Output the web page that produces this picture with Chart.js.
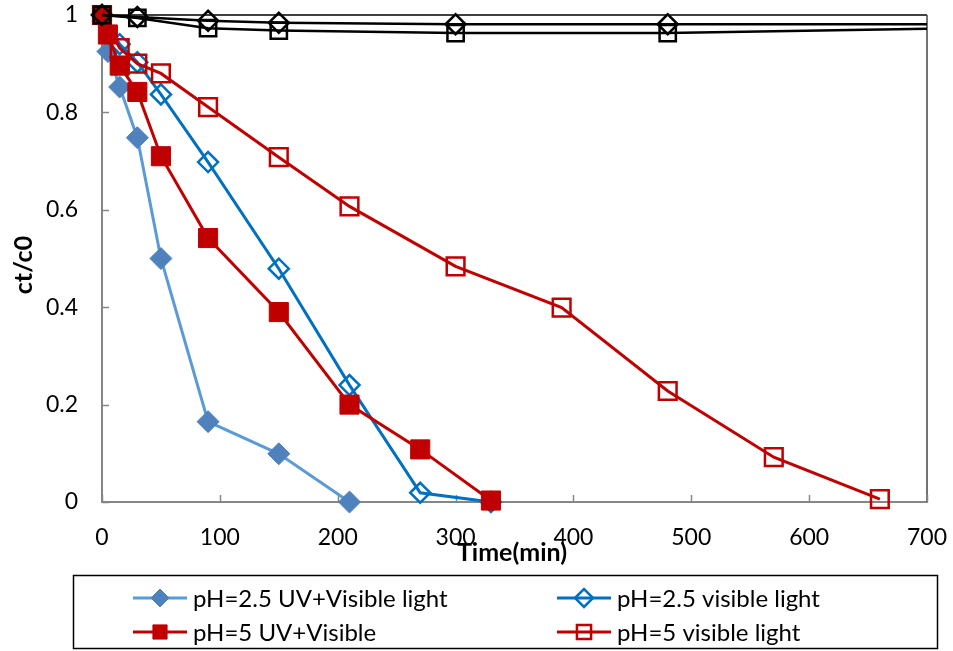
<!DOCTYPE html>
<html>
<head>
<meta charset="utf-8">
<script src="https://cdn.jsdelivr.net/npm/chart.js@4.4.0/dist/chart.umd.min.js"></script>
<style>
  html, body { margin: 0; padding: 0; background: #fff; }
</style>
</head>
<body>
<canvas id="chart" width="953" height="651"></canvas>
<script>
// time axis (min) for each series
const timeUvLow = [0, 5, 15, 30, 50, 90, 150, 210];
const timeVisLow = [0, 15, 30, 50, 90, 150, 210, 270, 330];
const timeUvHigh = [0, 5, 15, 30, 50, 90, 150, 210, 270, 330];
const timeVisHigh = [0, 15, 30, 50, 90, 150, 210, 300, 390, 480, 570, 660];
const timeDark = [0, 30, 90, 150, 300, 480, 700];

// ct/c0 values
const ph25UvVis = [1, 0.925, 0.852, 0.748, 0.50, 0.165, 0.099, 0.0];
const ph25Vis = [1, 0.94, 0.903, 0.837, 0.698, 0.479, 0.24, 0.019, 0.0];
const ph5UvVis = [1, 0.96, 0.896, 0.842, 0.71, 0.542, 0.39, 0.2, 0.108, 0.003];
const ph5Vis = [1, 0.932, 0.90, 0.88, 0.811, 0.708, 0.607, 0.484, 0.399, 0.228, 0.092, 0.006];
const darkA = [1, 0.996, 0.988, 0.984, 0.981, 0.981, 0.981];
const darkB = [1, 0.994, 0.973, 0.968, 0.963, 0.963, 0.972];

const seriesLabels = ['pH=2.5 UV+Visible light', 'pH=2.5 visible light', 'pH=5 UV+Visible', 'pH=5 visible light'];
const xTicks = [0, 100, 200, 300, 400, 500, 600, 700];
const yTicks = [0, 0.2, 0.4, 0.6, 0.8, 1];

function pts(xs, ys) {
    return xs.map((x, i) => ({ x: x, y: ys[i] }));
}

// last dark point only carries the line, no marker
function endless(n, r) {
    return Array.from({ length: n }, (_, i) => i === n - 1 ? 0 : r);
}

const datasets = [
    {
        label: seriesLabels[0], data: pts(timeUvLow, ph25UvVis), order: 6,
        borderColor: '#5B9BD5', borderWidth: 3,
        pointStyle: 'rectRot', pointRadius: 11, pointBackgroundColor: '#4F81BD', pointBorderColor: '#4F81BD', pointBorderWidth: 1
    },
    {
        label: seriesLabels[1], data: pts(timeVisLow, ph25Vis), order: 5,
        borderColor: '#0070C0', borderWidth: 3,
        pointStyle: 'rectRot', pointRadius: 10, pointBackgroundColor: 'rgba(0,0,0,0)', pointBorderColor: '#0070C0', pointBorderWidth: 2.5
    },
    {
        label: seriesLabels[2], data: pts(timeUvHigh, ph5UvVis), order: 4,
        borderColor: '#C00000', borderWidth: 3,
        pointStyle: 'rect', pointRadius: 13.5, pointBackgroundColor: '#C00000', pointBorderColor: '#C00000', pointBorderWidth: 1
    },
    {
        label: seriesLabels[3], data: pts(timeVisHigh, ph5Vis), order: 3,
        borderColor: '#C00000', borderWidth: 3,
        pointStyle: 'rect', pointRadius: 12.5, pointBackgroundColor: 'rgba(0,0,0,0)', pointBorderColor: '#C00000', pointBorderWidth: 2.5
    },
    {
        label: 'dark A', data: pts(timeDark, darkA), order: 2,
        borderColor: '#000', borderWidth: 2.5,
        pointStyle: 'rectRot', pointRadius: endless(timeDark.length, 10), pointBackgroundColor: 'rgba(0,0,0,0)', pointBorderColor: '#000', pointBorderWidth: 2.5
    },
    {
        label: 'dark B', data: pts(timeDark, darkB), order: 1,
        borderColor: '#000', borderWidth: 2.5,
        pointStyle: 'rect', pointRadius: endless(timeDark.length, 11.5), pointBackgroundColor: 'rgba(0,0,0,0)', pointBorderColor: '#000', pointBorderWidth: 2.5
    }
];
datasets.forEach(d => { d.showLine = true; d.fill = false; d.tension = 0; d.clip = false; });

// frame, inner tick marks, axis titles and boxed legend
const decorations = {
    id: 'decorations',
    beforeDatasetsDraw(chart) {
        const c = chart.ctx, a = chart.chartArea;
        c.save();
        c.strokeStyle = '#000';
        c.lineWidth = 1.5;
        c.beginPath();
        c.moveTo(a.left, a.top);
        c.lineTo(a.right, a.top);
        c.stroke();
        c.strokeStyle = '#444';
        c.beginPath();
        c.moveTo(a.right, a.top);
        c.lineTo(a.right, a.bottom);
        c.stroke();
        // inner ticks
        const xs = chart.scales.x, ys = chart.scales.y;
        c.strokeStyle = '#868686';
        c.lineWidth = 1.5;
        xTicks.forEach(v => {
            const px = Math.round(xs.getPixelForValue(v)) + 0.5;
            c.beginPath(); c.moveTo(px, a.bottom); c.lineTo(px, a.bottom - 7); c.stroke();
        });
        yTicks.forEach(v => {
            const py = Math.round(ys.getPixelForValue(v)) + 0.5;
            c.beginPath(); c.moveTo(a.left, py); c.lineTo(a.left + 7, py); c.stroke();
        });
        c.restore();
    },
    afterDraw(chart) {
        const c = chart.ctx, a = chart.chartArea;
        c.save();
        c.fillStyle = '#000';
        c.font = 'bold 25px Lato';
        c.textAlign = 'center';
        c.textBaseline = 'middle';
        c.fillText('Time(min)', 512, 553);
        c.translate(24, 265);
        c.rotate(-Math.PI / 2);
        c.fillText('ct/c0', 0, 0);
        c.restore();

        // legend box
        c.save();
        c.strokeStyle = '#000';
        c.lineWidth = 1.5;
        c.strokeRect(73.5, 575.5, 864, 73);
        const slots = [[133, 598], [557, 598], [133, 632], [557, 632]];
        c.font = '24px Lato';
        c.textBaseline = 'middle';
        c.textAlign = 'left';
        for (let i = 0; i < 4; i++) {
            const ds = chart.data.datasets[i];
            const [lx, ly] = slots[i];
            c.strokeStyle = ds.borderColor;
            c.lineWidth = 3;
            c.beginPath(); c.moveTo(lx, ly); c.lineTo(lx + 54, ly); c.stroke();
            const r = ds.pointStyle === 'rect' ? 10 : 9;
            c.fillStyle = ds.pointBackgroundColor;
            c.strokeStyle = ds.pointBorderColor;
            c.lineWidth = ds.pointBorderWidth;
            Chart.helpers.drawPoint(c, { pointStyle: ds.pointStyle, radius: r, rotation: 0, borderWidth: ds.pointBorderWidth }, lx + 27, ly);
            c.fillStyle = '#000';
            c.fillText(ds.label, lx + 60, ly + 1);
        }
        c.restore();
    }
};

function draw() {
    Chart.defaults.font.family = 'Lato';
    new Chart(document.getElementById('chart'), {
        type: 'scatter',
        data: { datasets: datasets },
        options: {
            responsive: false,
            animation: false,
            layout: { padding: { top: 15, right: 26, left: 0, bottom: 0 } },
            plugins: { legend: { display: false }, tooltip: { enabled: false } },
            scales: {
                x: {
                    type: 'linear', min: 0, max: 700,
                    afterFit: s => { s.height = 149; s.paddingLeft = 0; s.paddingRight = 0; },
                    afterBuildTicks: s => { s.ticks = xTicks.map(v => ({ value: v })); },
                    grid: { display: false, drawTicks: false },
                    border: { color: '#868686', width: 2 },
                    ticks: { color: '#000', font: { size: 23 }, padding: 22, maxRotation: 0 }
                },
                y: {
                    type: 'linear', min: 0, max: 1,
                    afterFit: s => { s.width = 102; s.paddingTop = 0; s.paddingBottom = 0; },
                    afterBuildTicks: s => { s.ticks = yTicks.map(v => ({ value: v })); },
                    grid: { display: false, drawTicks: false },
                    border: { color: '#868686', width: 2 },
                    ticks: { color: '#000', font: { size: 23 }, padding: 24, callback: v => String(v) }
                }
            }
        },
        plugins: [decorations]
    });
}

Promise.all([document.fonts.load('22px Lato'), document.fonts.load('bold 22px Lato')]).then(draw, draw);
</script>
</body>
</html>
